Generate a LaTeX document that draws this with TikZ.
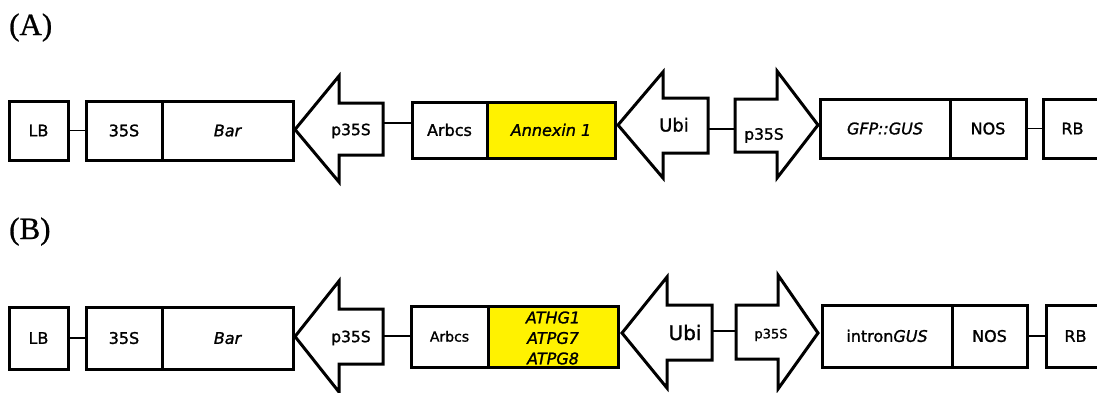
\documentclass[tikz,border=0pt]{standalone}
\usepackage{fontspec}
\setmainfont{DejaVu Sans}[UprightFeatures={FakeBold=1.3},ItalicFeatures={FakeBold=1.3}]
\newfontfamily\lblfont{Liberation Serif}[FakeBold=0.8]
\begin{document}
\begin{tikzpicture}[x=1pt,y=-1pt,line join=miter,
  box/.style={draw,line width=3pt,inner sep=0pt,font=\fontsize{16pt}{18pt}\selectfont},
  t/.style={text height=#1,text depth=0pt},
  t/.default=11.7pt,
  prom/.style={draw,line width=3pt,fill=white},
  lbl/.style={inner sep=0pt,text height=#1,text depth=0pt},
  conn/.style={line width=1.5pt},
  gene/.style={fill=yellow},
  panel/.style={font=\lblfont\fontsize{31pt}{33pt}\selectfont,anchor=base west,inner sep=0pt}]
\useasboundingbox (0,0) rectangle (1097,392);
% ---------------- (A) ----------------
\node[panel] (labA) at (9,35) {(A)};
\node[box,t,minimum width=59pt,minimum height=59pt] (lbA) at (38.5,130.5) {LB};
\node[box,t,minimum width=76pt,minimum height=59pt] (s35A) at (124,130.5) {35S};
\node[box,t,minimum width=131pt,minimum height=59pt] (barA) at (227.5,130.5) {\itshape Bar};
\draw[prom] (295,129.5) -- (339,76) -- (339,103) -- (383,103) -- (383,155) -- (339,155) -- (339,182) -- cycle;
\node[lbl=11.3pt,font=\fontsize{15.5pt}{17pt}\selectfont] (pA1) at (351,129.5) {p35S};
\coordinate (pA1r) at (383,123);
\node[box,t,minimum width=75pt,minimum height=56pt] (arbA) at (449.5,130) {Arbcs};
\node[box,t,gene,minimum width=128pt,minimum height=56pt] (annA) at (551,130) {\itshape Annexin 1};
\draw[prom] (618,125) -- (663,72) -- (663,98) -- (708,98) -- (708,153) -- (663,153) -- (663,178) -- cycle;
\node[lbl=13pt,font=\fontsize{18pt}{20pt}\selectfont] (ubiA) at (674,125) {Ubi};
\coordinate (ubiAr) at (708,129);
\draw[prom] (735,99) -- (777,99) -- (777,71) -- (818,125) -- (777,178) -- (777,152) -- (735,152) -- cycle;
\node[lbl=11.3pt,font=\fontsize{15.5pt}{17pt}\selectfont] (pA2) at (764,134) {p35S};
\coordinate (pA2l) at (735,129);
\node[box,t,minimum width=130pt,minimum height=59pt] (gfpA) at (885,128.5) {\itshape GFP::GUS};
\node[box,t,minimum width=76pt,minimum height=59pt] (nosA) at (988,128.5) {NOS};
\node[box,t,minimum width=59pt,minimum height=59pt] (rbA) at (1072.5,128.5) {RB};
\draw[conn] (lbA.east) -- (s35A.west);
\draw[conn] (pA1r) -- (pA1r -| arbA.west);
\draw[conn] (ubiAr) -- (pA2l);
\draw[conn] (nosA.east) -- (rbA.west);
% ---------------- (B) ----------------
\node[panel] (labB) at (9,239) {(B)};
\node[box,t,minimum width=59pt,minimum height=62pt] (lbB) at (38.5,338) {LB};
\node[box,t,minimum width=76pt,minimum height=62pt] (s35B) at (124,338) {35S};
\node[box,t,minimum width=131pt,minimum height=62pt] (barB) at (227.5,338) {\itshape Bar};
\draw[prom] (295,336.5) -- (339,281) -- (339,309) -- (383,309) -- (383,364) -- (339,364) -- (339,392) -- cycle;
\node[lbl=11.3pt,font=\fontsize{15.5pt}{17pt}\selectfont] (pB1) at (351,336.5) {p35S};
\coordinate (pB1r) at (383,336);
\node[box,minimum width=77pt,minimum height=61pt,text height=10.2pt,text depth=0pt,font=\fontsize{14pt}{16pt}\selectfont] (arbB) at (449.5,336.5) {Arbcs};
\node[box,gene,minimum width=130pt,minimum height=61pt] (atgB) at (553,336.5) {};
\node[inner sep=0pt,align=center,font=\fontsize{16pt}{20.5pt}\selectfont\itshape] (atgBt) at (553,338) {ATHG1\\ATPG7\\ATPG8};
\draw[prom] (622,333) -- (667,277) -- (667,305) -- (712,305) -- (712,360) -- (667,360) -- (667,388) -- cycle;
\node[lbl=14.6pt,font=\fontsize{20pt}{22pt}\selectfont] (ubiB) at (685,332.7) {Ubi};
\coordinate (ubiBr) at (712,331);
\draw[prom] (736,305) -- (778,305) -- (778,275) -- (818,333) -- (778,389) -- (778,359) -- (736,359) -- cycle;
\node[lbl=9.5pt,font=\fontsize{13pt}{15pt}\selectfont] (pB2) at (771,333.6) {p35S};
\coordinate (pB2l) at (736,331);
\node[box,t,minimum width=130pt,minimum height=62pt] (gusB) at (887,336) {intron\textit{GUS}};
\node[box,t,minimum width=75pt,minimum height=62pt] (nosB) at (989.5,336) {NOS};
\node[box,t,minimum width=59pt,minimum height=62pt] (rbB) at (1075.5,336) {RB};
\draw[conn] (lbB.east) -- (s35B.west);
\draw[conn] (pB1r) -- (pB1r -| arbB.west);
\draw[conn] (ubiBr) -- (pB2l);
\draw[conn] (nosB.east) -- (rbB.west);
\end{tikzpicture}
\end{document}
